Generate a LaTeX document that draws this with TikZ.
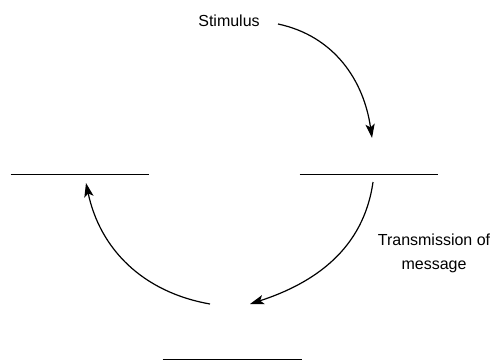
\documentclass[tikz,border=0pt]{standalone}
\usepackage{fontspec}
\setmainfont{Liberation Sans}
\usetikzlibrary{arrows.meta}

\begin{document}
\begin{tikzpicture}[x=0.75pt, y=0.75pt,
    label/.style={font=\fontsize{12}{17.5}\selectfont, inner sep=0pt, align=center},
    blank/.style={minimum width=138*0.75pt, minimum height=0pt, inner sep=0pt},
    flow/.style={line width=0.9pt, -{Stealth[length=10.5pt, width=7pt, inset=2.5pt]}},
    rule/.style={line width=0.7pt}]
        \useasboundingbox (0,0) rectangle (491,361);
        \node[label] (stim) at (229,340) {Stimulus};
        \node[label] (trans) at (434,107.5) {Transmission of\\message};
        \node[blank] (rline) at (369,187) {};
        \node[blank] (lline) at (80,187) {};
        \node[blank, minimum width=139*0.75pt] (bline) at (232.5,1.5) {};
        \draw[rule] (rline.west) -- (rline.east);
        \draw[rule] (lline.west) -- (lline.east);
        \draw[rule] (bline.west) -- (bline.east);
        \coordinate (s1) at (278,337);
        \coordinate (e1) at (372,223);
        \coordinate (s2) at (373,179);
        \coordinate (e2) at (250,57);
        \coordinate (s3) at (210,57);
        \coordinate (e3) at (86,178);
        \draw[flow] (s1) to[out=-12, in=98] (e1);
        \draw[flow] (s2) to[out=-98, in=18] (e2);
        \draw[flow] (s3) to[out=170, in=-78] (e3);
      \end{tikzpicture}
\end{document}
